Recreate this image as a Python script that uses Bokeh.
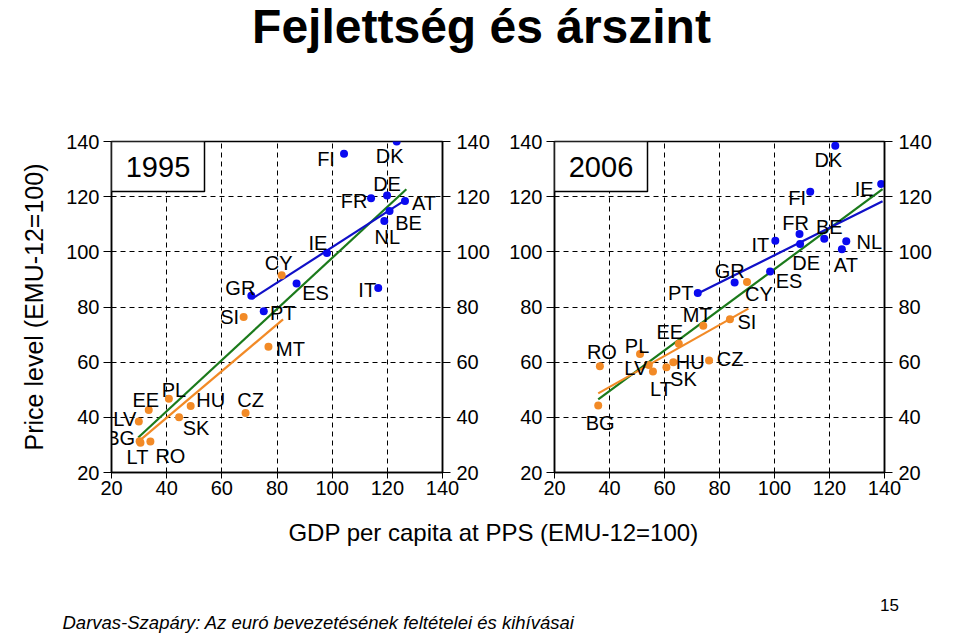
from bokeh.plotting import figure
from bokeh.models import Range1d, LinearAxis, FixedTicker, Label, ColumnDataSource, BoxAnnotation
from bokeh.layouts import column, row
from bokeh.embed import file_html
from bokeh.resources import INLINE
from bokeh.core.properties import value

FONT = "Liberation Sans"

# ---------------- data ----------------
ticks = [20, 40, 60, 80, 100, 120, 140]
grid_ticks = [40, 60, 80, 100, 120]

# 1995
old_95 = ["FI", "DK", "DE", "FR", "AT", "BE", "NL", "IE", "ES", "IT", "GR", "PT"]
old_95_gdp = [104.3, 123.4, 119.9, 114.1, 126.4, 120.8, 118.9, 98.1, 87.1, 116.7, 70.7, 75.2]
old_95_price = [135.6, 140.0, 120.4, 119.4, 118.4, 114.8, 111.2, 99.6, 88.5, 86.9, 84.1, 78.5]
new_95 = ["CY", "SI", "MT", "PL", "EE", "HU", "CZ", "SK", "LV", "BG", "LT", "RO"]
new_95_gdp = [81.7, 67.9, 76.9, 40.8, 33.5, 48.7, 68.6, 44.5, 29.9, 30.2, 30.5, 34.1]
new_95_price = [91.5, 76.4, 65.6, 46.7, 42.7, 44.1, 41.6, 40.0, 38.5, 31.3, 30.8, 31.2]

fit_95_old_x = [71.0, 126.9]
fit_95_old_y = [83.0, 119.0]
fit_95_all_x = [29.7, 126.9]
fit_95_all_y = [32.7, 122.7]
fit_95_new_x = [30.5, 82.2]
fit_95_new_y = [31.8, 75.5]

# 2006
old_06 = ["DK", "IE", "FI", "FR", "BE", "NL", "AT", "IT", "DE", "ES", "GR", "PT"]
old_06_gdp = [122.1, 138.8, 113.0, 109.1, 118.1, 126.1, 124.5, 100.3, 109.3, 98.4, 85.5, 72.1]
old_06_price = [138.5, 124.6, 121.8, 106.5, 104.7, 103.8, 100.9, 104.0, 102.8, 92.9, 88.9, 85.1]
new_06 = ["CY", "SI", "MT", "EE", "PL", "RO", "LV", "LT", "SK", "HU", "CZ", "BG"]
new_06_gdp = [90.0, 83.8, 74.1, 65.2, 51.1, 36.5, 54.3, 55.8, 60.7, 63.2, 76.2, 35.9]
new_06_price = [89.1, 75.6, 73.2, 66.7, 63.0, 58.5, 59.0, 56.6, 58.2, 60.0, 60.6, 44.3]

fit_06_old_x = [72.1, 139.3]
fit_06_old_y = [84.9, 118.3]
fit_06_all_x = [35.9, 139.3]
fit_06_all_y = [46.5, 122.7]
fit_06_new_x = [35.9, 90.5]
fit_06_new_y = [48.7, 79.4]

# label offsets (pixels: right, down)
off_95 = {"FI": (-18, 5), "DK": (-7, 14), "DE": (0, -12), "FR": (-17, 3), "AT": (19, 2),
          "BE": (19, 12), "NL": (3, 16), "IE": (-9, -10), "CY": (-3, -12), "ES": (19, 9),
          "IT": (-11, 2), "GR": (-11, -8), "PT": (19, 2), "SI": (-14, 0), "MT": (22, 2),
          "PL": (5, -9), "EE": (-3, -10), "HU": (20, -6), "CZ": (5, -13), "SK": (17, 11),
          "LV": (-14, -2), "BG": (-19, -3), "LT": (-3, 14), "RO": (20, 14)}
off_06 = {"DK": (-7, 14), "IE": (-17, 5), "FI": (-13, 6), "FR": (-4, -11), "BE": (5, -12),
          "NL": (23, 1), "AT": (4, 16), "IT": (-15, 4), "DE": (6, 19), "ES": (19, 10),
          "GR": (-5, -11), "CY": (12, 12), "PT": (-17, 0), "MT": (-6, -11), "SI": (17, 3),
          "EE": (-9, -12), "PL": (-3, -8), "RO": (2, -14), "LV": (-13, 3), "LT": (8, 17),
          "SK": (17, 12), "HU": (17, 0), "CZ": (21, -2), "BG": (2, 18)}

BLUE_DOT = "#0a0af0"
BLUE_LINE = "#1010c8"
ORANGE = "#f28a26"
GREEN = "#1b7a1b"

FRAME_H = 331
BOX_W_PX, BOX_H_PX = 93, 50


def style_axis(ax, standoff):
    ax.ticker = FixedTicker(ticks=ticks)
    ax.axis_line_color = "black"
    ax.axis_line_width = 1.5
    ax.major_tick_line_color = "black"
    ax.major_tick_line_width = 1
    ax.major_tick_out = 8
    ax.major_tick_in = 0
    ax.minor_tick_line_color = None
    ax.major_label_text_font = FONT
    ax.major_label_text_font_size = "20px"
    ax.major_label_text_color = "black"
    ax.major_label_standoff = standoff


def panel(year, old, ogdp, opr, new, ngdp, npr, fits, off, fw, bl, br, ylabel):
    p = figure(frame_width=fw, frame_height=FRAME_H, title=None,
               x_range=Range1d(20, 140), y_range=Range1d(20, 140),
               output_backend="svg", toolbar_location=None, tools="",
               min_border_left=bl, min_border_right=br,
               min_border_top=33, min_border_bottom=48,
               background_fill_color="white", border_fill_color="white")
    p.outline_line_color = "black"
    p.outline_line_width = 1.5
    style_axis(p.xaxis[0], 2)
    p.xaxis[0].major_tick_out = 6
    style_axis(p.yaxis[0], 4)
    rax = LinearAxis()
    style_axis(rax, 6)
    p.add_layout(rax, "right")
    if ylabel:
        p.yaxis[0].axis_label = ylabel
        p.yaxis[0].axis_label_text_font = FONT
        p.yaxis[0].axis_label_text_font_size = "25px"
        p.yaxis[0].axis_label_text_font_style = "normal"
        p.yaxis[0].axis_label_text_color = "black"
        p.yaxis[0].axis_label_standoff = 15
    for g in (p.xgrid[0], p.ygrid[0]):
        g.ticker = FixedTicker(ticks=grid_ticks)
        g.grid_line_color = "black"
        g.grid_line_dash = "5 4"
        g.grid_line_width = 1

    (ox, oy), (ax_, ay), (nx, ny) = fits
    p.line(ax_, ay, line_color=GREEN, line_width=2.2)
    p.line(nx, ny, line_color=ORANGE, line_width=2.2)
    p.line(ox, oy, line_color=BLUE_LINE, line_width=2.2)

    p.scatter(ogdp, opr, size=8, fill_color=BLUE_DOT, line_color=None)
    p.scatter(ngdp, npr, size=8, fill_color=ORANGE, line_color=None)

    names = old + new
    src = ColumnDataSource(dict(
        x=ogdp + ngdp, y=opr + npr, t=names,
        dx=[off[n][0] for n in names], dy=[off[n][1] for n in names]))
    p.text(x="x", y="y", text="t", x_offset="dx", y_offset="dy", source=src,
           text_font=value(FONT), text_font_size="20px", text_color="black",
           text_align="center", text_baseline="middle")

    # year box in the top-left corner (sized in pixels, converted to data units)
    ux = 120.0 / fw
    uy = 120.0 / FRAME_H
    bw, bh = BOX_W_PX * ux, BOX_H_PX * uy
    p.add_layout(BoxAnnotation(left=20, right=20 + bw, top=140, bottom=140 - bh,
                               fill_color="white", fill_alpha=1.0,
                               line_color="black", line_alpha=1.0, line_width=1.5))
    p.add_layout(Label(x=20 + bw / 2, y=140 - bh / 2, text=year, text_font=FONT,
                       text_font_size="29px", text_color="black",
                       text_align="center", text_baseline="middle"))
    return p


p1 = panel("1995", old_95, old_95_gdp, old_95_price, new_95, new_95_gdp, new_95_price,
           ((fit_95_old_x, fit_95_old_y), (fit_95_all_x, fit_95_all_y), (fit_95_new_x, fit_95_new_y)),
           off_95, 331, 111, 56, "Price level (EMU-12=100)")
p2 = panel("2006", old_06, old_06_gdp, old_06_price, new_06, new_06_gdp, new_06_price,
           ((fit_06_old_x, fit_06_old_y), (fit_06_all_x, fit_06_all_y), (fit_06_new_x, fit_06_new_y)),
           off_06, 330, 56, 76, None)


def blank(h):
    f = figure(width=960, height=h, x_range=Range1d(0, 960), y_range=Range1d(0, h),
               x_axis_type=None, y_axis_type=None, min_border=0, title=None,
               output_backend="svg", toolbar_location=None, tools="")
    f.grid.visible = False
    f.outline_line_color = None
    return f


head = blank(108)
head.add_layout(Label(x=481, y=82, text="Fejlettség és árszint", text_font=FONT,
                      text_font_size="48px", text_font_style="bold", text_color="black",
                      text_align="center", text_baseline="alphabetic"))

foot = blank(116)
foot.add_layout(Label(x=493, y=104, text="GDP per capita at PPS (EMU-12=100)", text_font=FONT,
                      text_font_size="24px", text_color="black",
                      text_align="center", text_baseline="alphabetic"))
foot.add_layout(Label(x=889, y=32, text="15", text_font=FONT, text_font_size="17px",
                      text_color="black", text_align="center", text_baseline="alphabetic"))
foot.add_layout(Label(x=62, y=14, text="Darvas-Szapáry: Az euró bevezetésének feltételei és kihívásai",
                      text_font=FONT, text_font_size="18.5px",
                      text_font_style="italic", text_color="black",
                      text_align="left", text_baseline="alphabetic"))

layout = column(head, row(p1, p2), foot)
open("out.html", "w").write(file_html(layout, INLINE))
